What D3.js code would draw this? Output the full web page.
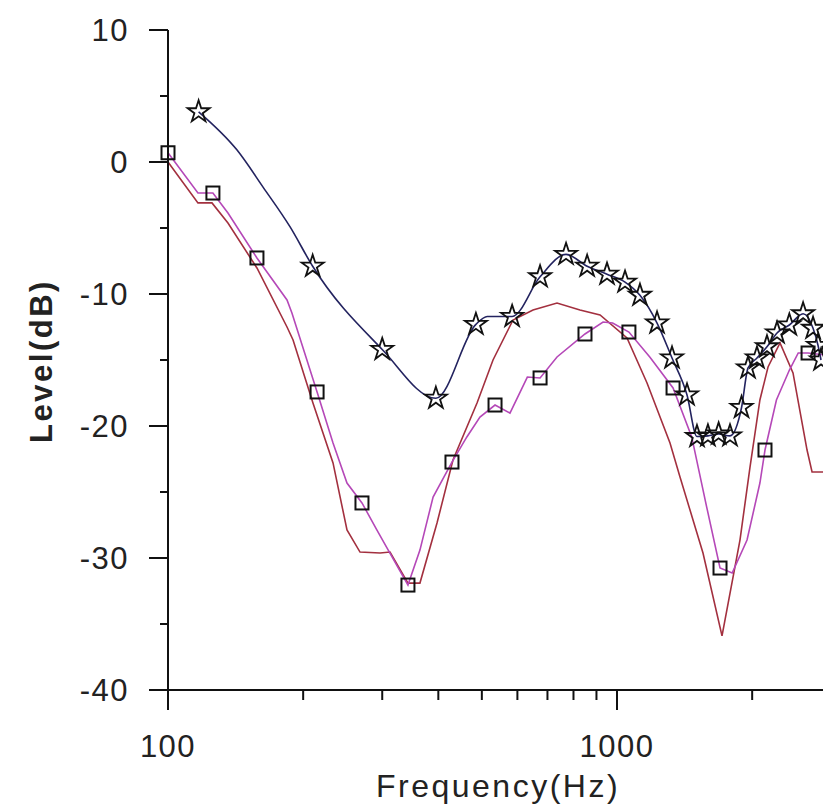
<!DOCTYPE html>
<html><head><meta charset="utf-8">
<script src="https://cdn.jsdelivr.net/npm/d3@7"></script>
<style>
html,body{margin:0;padding:0;background:#fff;}
svg{display:block;}
text{font-family:"Liberation Sans",Arial,sans-serif;fill:#222;}
</style></head>
<body>
<svg id="c" width="823" height="808"></svg>
<script>
// ---- data ----
const xTicksMajor = [100, 1000];
const xTicksMinor = [200, 300, 400, 500, 600, 700, 800, 900, 2000];
const yTicksMajor = [10, 0, -10, -20, -30, -40];
const yTicksMinor = [5, -5, -15, -25, -35];

// navy line (stars)
const navyFreq = [117, 142.5, 162.8, 186.9, 210, 300, 395, 485, 514, 584, 674, 770, 858, 950, 1042, 1125, 1228, 1326, 1432, 1507, 1594, 1684, 1785, 1894, 1958, 2050, 2158, 2272, 2420, 2597, 2733, 2804, 2847];
const navyDb   = [3.8, 0.9, -1.9, -4.9, -7.9, -14.2, -17.9, -12.3, -11.7, -11.7, -8.7, -7.0, -7.9, -8.5, -9.1, -10.1, -12.2, -14.85, -17.65, -20.8, -20.75, -20.6, -20.75, -18.6, -15.6, -14.85, -14.0, -12.95, -12.35, -11.5, -12.6, -13.9, -15.0];
const starFreq = [117, 210, 300, 395, 485, 584, 674, 770, 858, 950, 1042, 1125, 1228, 1326, 1432, 1507, 1594, 1684, 1785, 1894, 1958, 2050, 2158, 2272, 2420, 2597, 2733, 2804, 2847];
const starDb   = [3.8, -7.9, -14.2, -17.9, -12.3, -11.7, -8.7, -7.0, -7.9, -8.5, -9.1, -10.1, -12.2, -14.85, -17.65, -20.8, -20.75, -20.6, -20.75, -18.6, -15.6, -14.85, -14.0, -12.95, -12.35, -11.5, -12.6, -13.9, -15.0];

// magenta line (squares)
const magFreq = [100, 116.6, 125.9, 136, 157.8, 184.1, 188.8, 214.8, 233.1, 250.4, 270.4, 292, 342.3, 364, 389.4, 429, 463, 495.2, 535, 577.6, 631.4, 674, 735.2, 848.6, 931, 978, 1063, 1183, 1333, 1467, 1584, 1696, 1805, 1948, 2081, 2136, 2265, 2421, 2533, 2664, 2876];
const magDb   = [0.7, -2.35, -2.35, -3.86, -7.27, -10.45, -11.44, -17.42, -21.29, -24.32, -25.83, -27.88, -32.05, -29.4, -25.38, -22.73, -20.83, -19.32, -18.41, -19.02, -16.29, -16.36, -14.77, -13.03, -12.12, -12.2, -12.88, -14.77, -17.12, -20.83, -26.14, -30.76, -31.14, -28.64, -24.32, -21.82, -18.03, -15.76, -14.47, -14.47, -14.6];
const sqFreq = [100, 125.9, 157.8, 214.8, 270.4, 342.3, 429, 535, 674, 848.6, 1063, 1333, 1696, 2136, 2664];
const sqDb   = [0.7, -2.35, -7.27, -17.42, -25.83, -32.05, -22.73, -18.41, -16.36, -13.03, -12.88, -17.12, -30.76, -21.82, -14.47];

// dark red line
const redFreq = [100, 116.6, 125.3, 136, 157.8, 184.1, 189.9, 210.3, 233.1, 250.4, 267.7, 296.7, 312.2, 342.3, 364, 397.3, 431.2, 487.8, 529.5, 586.7, 650, 735.2, 827, 916.7, 1052.7, 1166.5, 1312.3, 1381.4, 1554.2, 1713.5, 1878.8, 1978, 2081, 2169.6, 2307, 2466, 2650, 2719, 2876];
const redDb   = [0.0, -3.1, -3.1, -4.62, -8.03, -12.5, -13.48, -18.26, -22.8, -27.88, -29.55, -29.62, -29.55, -31.9, -31.9, -27.35, -22.58, -18.26, -15.0, -11.97, -11.21, -10.68, -11.21, -11.59, -13.33, -16.74, -21.29, -23.86, -29.62, -35.9, -28.64, -23.11, -18.03, -15.53, -13.7, -15.98, -21.82, -23.48, -23.48];

// ---- chart ----
const svg = d3.select("#c");
const x = d3.scaleLog().domain([100, 2876]).range([168, 823]);
const y = d3.scaleLinear().domain([-40, 10]).range([690, 30]);

const line = d3.line().x(d => x(d[0])).y(d => y(d[1])).curve(d3.curveLinear);
const smooth = d3.line().x(d => x(d[0])).y(d => y(d[1])).curve(d3.curveMonotoneX);
const zip = (a, b) => a.map((v, i) => [v, b[i]]);

svg.append("path").datum(zip(redFreq, redDb)).attr("d", line)
  .attr("fill", "none").attr("stroke", "#a3303f").attr("stroke-width", 1.6);
svg.append("path").datum(zip(magFreq, magDb)).attr("d", line)
  .attr("fill", "none").attr("stroke", "#b548b8").attr("stroke-width", 1.6);
svg.append("path").datum(zip(navyFreq, navyDb)).attr("d", smooth)
  .attr("fill", "none").attr("stroke", "#23235f").attr("stroke-width", 1.6);

const star = d3.symbol().type(d3.symbolStar).size(150);
svg.append("g").selectAll("path").data(zip(starFreq, starDb)).join("path")
  .attr("d", star)
  .attr("transform", d => `translate(${x(d[0])},${y(d[1])})`)
  .attr("fill", "none").attr("stroke", "#111").attr("stroke-width", 1.8);

const sq = 13;
svg.append("g").selectAll("rect").data(zip(sqFreq, sqDb)).join("rect")
  .attr("x", d => x(d[0]) - sq / 2).attr("y", d => y(d[1]) - sq / 2)
  .attr("width", sq).attr("height", sq)
  .attr("fill", "none").attr("stroke", "#111").attr("stroke-width", 2);

// axes
const ax = svg.append("g").attr("stroke", "#111").attr("stroke-width", 2);
ax.append("line").attr("x1", 168).attr("x2", 168).attr("y1", y(10)).attr("y2", y(-40));
ax.append("line").attr("x1", 168).attr("x2", 823).attr("y1", y(-40)).attr("y2", y(-40));
ax.selectAll(".ym").data(yTicksMajor).join("line").attr("class", "ym")
  .attr("x1", 149).attr("x2", 168).attr("y1", d => y(d)).attr("y2", d => y(d));
ax.selectAll(".yn").data(yTicksMinor).join("line").attr("class", "yn")
  .attr("x1", 160).attr("x2", 168).attr("y1", d => y(d)).attr("y2", d => y(d));
ax.selectAll(".xm").data(xTicksMajor).join("line").attr("class", "xm")
  .attr("x1", d => x(d)).attr("x2", d => x(d)).attr("y1", y(-40)).attr("y2", y(-40) + 20);
ax.selectAll(".xn").data(xTicksMinor).join("line").attr("class", "xn")
  .attr("x1", d => x(d)).attr("x2", d => x(d)).attr("y1", y(-40)).attr("y2", y(-40) + 10);

// tick labels
svg.append("g").selectAll("text").data(yTicksMajor).join("text")
  .attr("x", 129).attr("y", d => y(d) + 11)
  .attr("text-anchor", "end").attr("font-size", 31).attr("letter-spacing", 1.5)
  .text(d => d);
svg.append("g").selectAll("text").data(xTicksMajor).join("text")
  .attr("x", d => x(d)).attr("y", 757)
  .attr("text-anchor", "middle").attr("font-size", 31).attr("letter-spacing", 1.5)
  .text(d => d);

// axis titles
svg.append("text").attr("x", 498).attr("y", 797).attr("text-anchor", "middle")
  .attr("font-size", 32).attr("letter-spacing", 2.5).text("Frequency(Hz)");
svg.append("text").attr("transform", "translate(52,361) rotate(-90)")
  .attr("text-anchor", "middle").attr("font-size", 31).attr("font-weight", "bold")
  .attr("letter-spacing", 2.5).text("Level(dB)");
</script>
</body></html>
